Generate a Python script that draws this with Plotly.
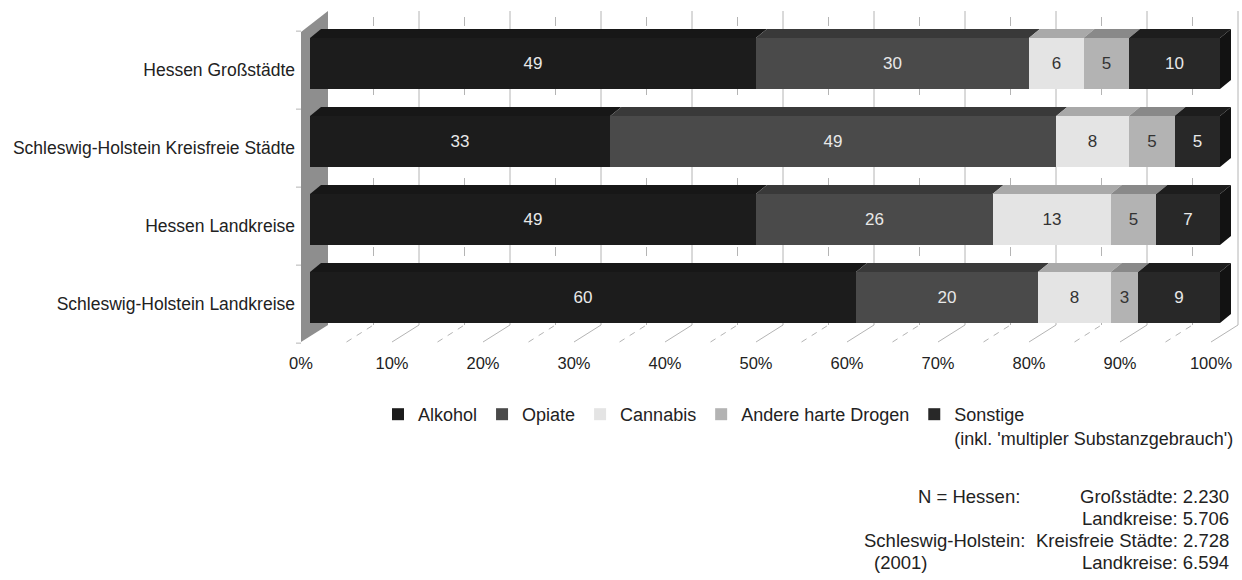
import plotly.graph_objects as go

# ---------------- data ----------------
categories = ["Hessen Großstädte", "Schleswig-Holstein Kreisfreie Städte",
              "Hessen Landkreise", "Schleswig-Holstein Landkreise"]
series_names = ["Alkohol", "Opiate", "Cannabis", "Andere harte Drogen",
                "Sonstige<br>(inkl. 'multipler Substanzgebrauch')"]
alkohol = [49, 33, 49, 60]
opiate = [30, 49, 26, 20]
cannabis = [6, 8, 13, 8]
andere = [5, 5, 5, 3]
sonstige = [10, 5, 7, 9]
x_ticks = [0, 10, 20, 30, 40, 50, 60, 70, 80, 90, 100]
x_tick_labels = ["0%", "10%", "20%", "30%", "40%", "50%", "60%", "70%", "80%", "90%", "100%"]
n_left = ["N = Hessen:", "", "Schleswig-Holstein:", "(2001)"]
n_right = ["Großstädte: 2.230", "Landkreise: 5.706",
           "Kreisfreie Städte: 2.728", "Landkreise: 6.594"]

# ---------------- style ----------------
W, H = 1242, 580
FONT = "Liberation Sans, Arial, sans-serif"
front_colors = ["#1c1c1c", "#4a4a4a", "#e4e4e4", "#b3b3b3", "#282828"]
top_colors = ["#171717", "#393939", "#a9a9a9", "#898989", "#1d1d1d"]
side_color = "#121212"
text_colors = ["#e8e8e8", "#e8e8e8", "#333333", "#333333", "#e8e8e8"]
grid_color = "#b4b4b4"
wall_color = "#8e8e8e"

# pixel geometry (used to map the axes)
X0_PX, PX_PER_X = 310.0, 9.1
Y0_PX, PX_PER_Y = 297.5, 78.0
DOM_L, DOM_R = 296.0, 1242.0
DOM_T, DOM_B = 0.0, 351.0
BAR_W = 0.654

def dx(px):
    return px / PX_PER_X

def dy(px):
    return px / PX_PER_Y

x_range = [(DOM_L - X0_PX) / PX_PER_X, (DOM_R - X0_PX) / PX_PER_X]
y_range = [(Y0_PX - DOM_B) / PX_PER_Y, (Y0_PX - DOM_T) / PX_PER_Y]

n = len(categories)
ypos = [n - 1 - i for i in range(n)]
series = [alkohol, opiate, cannabis, andere, sonstige]

fig = go.Figure()
for name, vals, fc, tc in zip(series_names, series, front_colors, text_colors):
    fig.add_trace(go.Bar(
        orientation="h", x=vals, y=ypos, name=name, width=BAR_W,
        marker=dict(color=fc, line=dict(width=0)),
        text=[str(v) for v in vals], textposition="inside",
        insidetextanchor="middle", textangle=0, constraintext="none",
        textfont=dict(color=tc, size=17, family=FONT),
        hoverinfo="x+y",
    ))

shapes = []
# 3D wall / floor geometry
fx, bx = dx(301 - X0_PX), dx(328 - X0_PX)           # front / back offsets
y_fb, y_bb = (Y0_PX - 342) / PX_PER_Y, (Y0_PX - 325) / PX_PER_Y
y_ft, y_bt = (Y0_PX - 32) / PX_PER_Y, (Y0_PX - 11) / PX_PER_Y

# left wall
shapes.append(dict(type="path", xref="x", yref="y", layer="below",
                   path=f"M{fx},{y_ft} L{bx},{y_bt} L{bx},{y_bb} L{fx},{y_fb} Z",
                   fillcolor=wall_color, line=dict(width=0)))
# back wall grid + floor lines
for v in range(5, 101, 5):
    major = v % 10 == 0
    dash = "solid" if major else "9px,14px"
    shapes.append(dict(type="line", xref="x", yref="y", layer="below",
                       x0=v + bx, x1=v + bx, y0=y_bb, y1=y_bt,
                       line=dict(color=grid_color, width=1, dash=dash)))
    shapes.append(dict(type="line", xref="x", yref="y", layer="below",
                       x0=v + fx, x1=v + bx, y0=y_fb, y1=y_bb,
                       line=dict(color=grid_color, width=1,
                                 dash="solid" if major else "6px,6px")))
# small ticks on wall front edge
for r in range(-1, n):
    yt = r + 0.5 - 0.085
    shapes.append(dict(type="line", xref="x", yref="y", layer="below",
                       x0=dx(296 - X0_PX), x1=fx, y0=yt, y1=yt,
                       line=dict(color=grid_color, width=1)))

# 3D top faces and right side of the bars
ddx, ddy = dx(11), dy(9)
h = BAR_W / 2
for row, y in enumerate(ypos):
    start = 0
    for si, vals in enumerate(series):
        x0, x1 = start, start + vals[row]
        shapes.append(dict(type="path", xref="x", yref="y", layer="above",
                           path=(f"M{x0},{y + h} L{x1},{y + h} L{x1 + ddx},{y + h + ddy} "
                                 f"L{x0 + ddx},{y + h + ddy} Z"),
                           fillcolor=top_colors[si], line=dict(width=0)))
        start = x1
    shapes.append(dict(type="path", xref="x", yref="y", layer="above",
                       path=(f"M{start},{y - h} L{start},{y + h} L{start + ddx},{y + h + ddy} "
                             f"L{start + ddx},{y - h + ddy} Z"),
                       fillcolor=side_color, line=dict(width=0)))

# N block annotations
annotations = []
line_px = [496, 518, 540, 562]
left_px = [916, 0, 862, 872]
for txt, lp, yp in zip(n_left, left_px, line_px):
    if txt:
        annotations.append(dict(text=txt, xref="paper", yref="paper",
                                x=lp / W, y=1 - yp / H, xanchor="left", yanchor="middle",
                                showarrow=False, font=dict(size=18.5, color="#222", family=FONT)))
for txt, yp in zip(n_right, line_px):
    annotations.append(dict(text=txt, xref="paper", yref="paper",
                            x=1231 / W, y=1 - yp / H, xanchor="right", yanchor="middle",
                            showarrow=False, font=dict(size=18.5, color="#222", family=FONT)))

fig.update_layout(
    width=W, height=H, margin=dict(l=0, r=0, t=0, b=0, pad=0, autoexpand=False),
    paper_bgcolor="white", plot_bgcolor="white",
    barmode="stack", bargap=0,
    font=dict(family=FONT, color="#222"),
    shapes=shapes, annotations=annotations,
    showlegend=True,
    legend=dict(orientation="h", x=378 / W, y=1 - 396 / H, xanchor="left", yanchor="top",
                traceorder="normal", valign="top",
                font=dict(size=18, color="#222", family=FONT),
                bgcolor="rgba(0,0,0,0)"),
    xaxis=dict(domain=[DOM_L / W, DOM_R / W], range=x_range, showgrid=False, zeroline=False,
               showline=False, ticks="", fixedrange=True, automargin=False,
               tickvals=[v + fx for v in x_ticks], ticktext=x_tick_labels,
               tickfont=dict(size=16.5, color="#222", family=FONT)),
    yaxis=dict(domain=[1 - DOM_B / H, 1 - DOM_T / H], range=y_range, showgrid=False,
               zeroline=False, showline=False, ticks="", fixedrange=True, automargin=False,
               tickvals=[y - 0.08 for y in ypos], ticktext=categories,
               tickfont=dict(size=17.5, color="#222", family=FONT)),
)

fig.write_html("out.html")
